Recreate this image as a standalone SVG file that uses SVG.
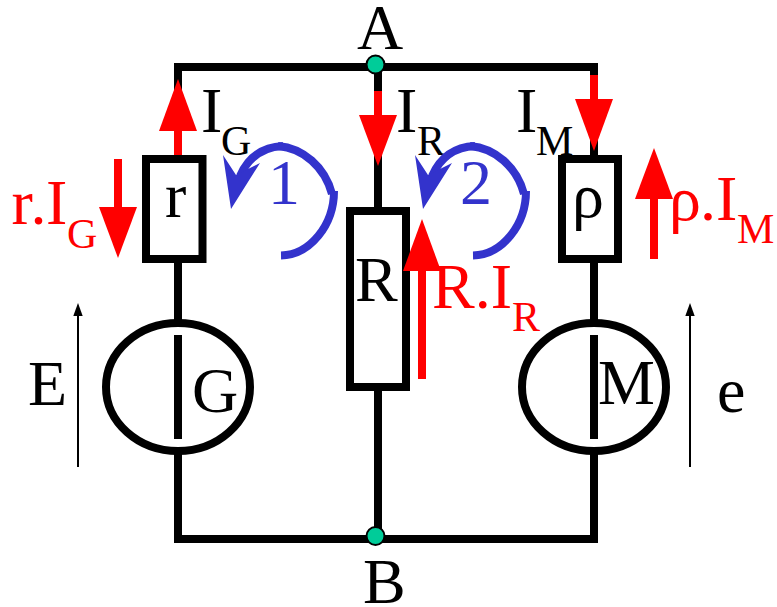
<svg xmlns="http://www.w3.org/2000/svg" width="777" height="607" viewBox="0 0 777 607">
<style>
text{font-family:"Liberation Serif","Times New Roman",serif;font-size:64px;fill:#000}
.sub{font-size:42px}
.red,.red text{fill:#f00}
.blue{fill:#3333cc}
.wire{fill:none;stroke:#000;stroke-width:8;stroke-linecap:butt;stroke-linejoin:miter}
.part{fill:#fff;stroke:#000;stroke-width:8}
.bar{stroke:#000;stroke-width:8}
.shaft{stroke:#f00;stroke-width:8}
.head{fill:#f00}
.loop{fill:none;stroke:#3333cc;stroke-width:8}
.thin{stroke:#000;stroke-width:2}
.dot{fill:#00cc99;stroke:#000;stroke-width:2}
</style>
<g id="connectors">
<rect class="wire" x="178" y="67" width="416" height="472"/>
<path class="wire" d="M378 67V539"/>
</g>
<g id="resistor-r"><rect class="part" x="146" y="159" width="56.500" height="100"/><text x="165" y="217">r</text></g>
<g id="resistor-R"><rect class="part" x="350" y="211" width="56" height="176"/><text x="355" y="301">R</text></g>
<g id="resistor-rho"><rect class="part" x="562" y="159" width="56" height="100"/><text x="572" y="217">ρ</text></g>
<g id="generator-G"><ellipse class="part" cx="178" cy="387" rx="72" ry="64"/><path class="bar" d="M178 335V439"/><text x="192" y="412">G</text></g>
<g id="motor-M"><ellipse class="part" cx="594" cy="387" rx="72" ry="64"/><path class="bar" d="M594 335V439"/><text x="598" y="404">M</text></g>
<g id="node-A"><circle class="dot" cx="375.500" cy="64.500" r="9"/><text x="357" y="49">A</text></g>
<g id="node-B"><circle class="dot" cx="375.500" cy="536" r="9"/><text x="363" y="603">B</text></g>
<g id="voltage-E"><path class="thin" d="M78 467V312"/><path d="M78 303l4.700 13h-9.400z"/><text x="28" y="405">E</text></g>
<g id="voltage-e"><path class="thin" d="M690 467V312"/><path d="M690 303l4.700 13h-9.400z"/><text x="717" y="412">e</text></g>
<g id="current-IG"><path class="shaft" d="M178 155V125"/><path class="head" d="M178 79L197 131H159z"/><text x="201" y="132">I<tspan class="sub" x="221" y="155">G</tspan></text></g>
<g id="current-IR"><path class="shaft" d="M378 91V120"/><path class="head" d="M378 166L359 115H397z"/><text x="396" y="132">I<tspan class="sub" x="417" y="155">R</tspan></text></g>
<g id="current-IM"><path class="shaft" d="M594 75V104"/><path class="head" d="M594 151L575 99H613z"/><text x="516" y="132">I<tspan class="sub" x="536" y="155">M</tspan></text></g>
<g id="drop-r" class="red"><path class="shaft" d="M118 159V212"/><path class="head" d="M118 258L99 207H137z"/><text x="11.500 30.500 46" y="224">r.I<tspan class="sub" x="67" y="248">G</tspan></text></g>
<g id="drop-rho" class="red"><path class="shaft" d="M654 259V193"/><path class="head" d="M654 148L673 199H635z"/><text x="669 700 716" y="220">ρ.I<tspan class="sub" x="737" y="243">M</tspan></text></g>
<g id="drop-R" class="red"><path class="shaft" d="M422 379V265"/><path class="head" d="M422 219L441 271H403z"/><text x="432" y="308">R.I<tspan class="sub" x="512" y="331">R</tspan></text></g>
<g id="loop-1"><path class="loop" d="M283 146C262 147 248 158 240 176"/><path class="loop" d="M278 146C303 148 325 167 332 194"/><path class="loop" d="M334 191C334 225 310 255 281 255.500"/><path class="blue" d="M223 155L236 175L260 163L231 209z"/><text class="blue" x="268" y="204">1</text></g>
<g id="loop-2"><path class="loop" d="M475 146C454 147 440 158 432 176"/><path class="loop" d="M470 146C495 148 517 167 524 194"/><path class="loop" d="M526 191C526 225 502 255 473 255.500"/><path class="blue" d="M415 155L428 175L452 163L423 209z"/><text class="blue" x="460" y="204">2</text></g>
</svg>
